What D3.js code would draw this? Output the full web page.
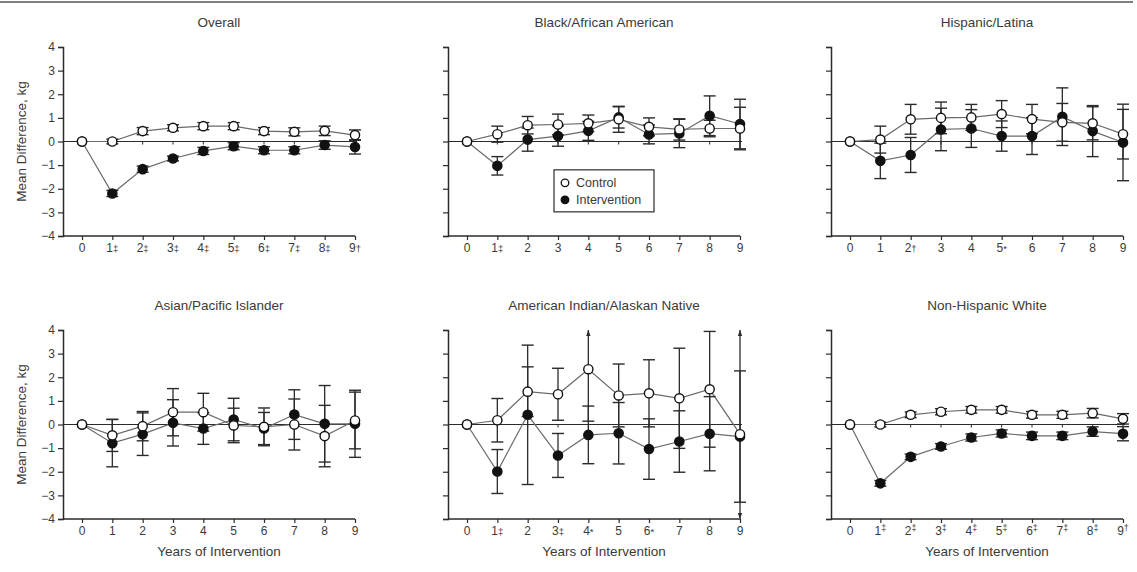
<!DOCTYPE html>
<html>
<head>
<meta charset="utf-8">
<script src="https://cdn.jsdelivr.net/npm/d3@7/dist/d3.min.js"></script>
<style>
  html, body { margin: 0; padding: 0; background: #fff; }
  svg { display: block; font-family: "Liberation Sans", Arial, Helvetica, sans-serif; }
</style>
</head>
<body>
<svg id="chart" width="1137" height="572"></svg>
<script>
// Years since baseline
const years = [0, 1, 2, 3, 4, 5, 6, 7, 8, 9];
const yTicks = [-4, -3, -2, -1, 0, 1, 2, 3, 4];

// Significance marks appended to the year labels
const overallMarks  = ["", "‡", "‡", "‡", "‡", "‡", "‡", "‡", "‡", "†"];
const blackMarks    = ["", "‡", "", "", "", "", "", "", "", ""];
const hispanicMarks = ["", "", "†", "", "", "*", "", "", "", ""];
const asianMarks    = ["", "", "", "", "", "", "", "", "", ""];
const amIndMarks    = ["", "‡", "", "‡", "*", "", "*", "", "", ""];
const whiteMarks    = ["", "‡", "‡", "‡", "‡", "‡", "‡", "‡", "‡", "†"];

// Mean weight difference from baseline (kg) and error-bar half widths
const overallControl         = [0, 0.00, 0.44, 0.58, 0.65, 0.65, 0.44, 0.41, 0.45, 0.27];
const overallControlErr      = [0, 0.10, 0.15, 0.13, 0.15, 0.15, 0.15, 0.17, 0.20, 0.22];
const overallIntervention    = [0, -2.20, -1.17, -0.72, -0.40, -0.20, -0.37, -0.37, -0.15, -0.23];
const overallInterventionErr = [0, 0.13, 0.13, 0.10, 0.15, 0.15, 0.15, 0.15, 0.18, 0.30];

const blackControl         = [0, 0.31, 0.69, 0.72, 0.77, 0.94, 0.62, 0.51, 0.55, 0.55];
const blackControlErr      = [0, 0.34, 0.37, 0.44, 0.35, 0.55, 0.38, 0.45, 0.35, 0.90];
const blackIntervention    = [0, -1.03, 0.08, 0.23, 0.45, 1.02, 0.30, 0.34, 1.09, 0.74];
const blackInterventionErr = [0, 0.39, 0.49, 0.43, 0.40, 0.45, 0.40, 0.60, 0.84, 1.05];

const hispanicControl         = [0, 0.08, 0.94, 1.00, 1.02, 1.16, 0.95, 0.81, 0.77, 0.31];
const hispanicControlErr      = [0, 0.57, 0.63, 0.67, 0.55, 0.57, 0.62, 0.80, 0.70, 1.05];
const hispanicIntervention    = [0, -0.82, -0.57, 0.51, 0.55, 0.23, 0.23, 1.05, 0.44, -0.04];
const hispanicInterventionErr = [0, 0.75, 0.74, 0.90, 0.80, 0.64, 0.78, 1.22, 1.08, 1.62];

const asianControl         = [0, -0.46, -0.07, 0.52, 0.52, -0.04, -0.10, 0.00, -0.49, 0.17];
const asianControlErr      = [0, 0.68, 0.62, 1.00, 0.80, 0.73, 0.80, 1.08, 1.30, 1.20];
const asianIntervention    = [0, -0.79, -0.41, 0.07, -0.17, 0.21, -0.17, 0.42, 0.03, 0.03];
const asianInterventionErr = [0, 1.00, 0.90, 0.98, 0.67, 0.90, 0.68, 1.05, 1.62, 1.42];

const amIndControl         = [0, 0.18, 1.39, 1.28, 2.34, 1.23, 1.32, 1.11, 1.49, -0.41];
const amIndControlErr      = [0, 0.92, 1.05, 1.10, 2.20, 1.33, 1.42, 2.12, 2.45, 4.50];
const amIndIntervention    = [0, -1.99, 0.41, -1.31, -0.44, -0.37, -1.04, -0.72, -0.39, -0.51];
const amIndInterventionErr = [0, 0.93, 2.95, 0.93, 1.22, 1.30, 1.28, 1.30, 1.57, 2.78];

const whiteControl         = [0, 0.00, 0.41, 0.54, 0.62, 0.62, 0.41, 0.41, 0.48, 0.24];
const whiteControlErr      = [0, 0.10, 0.12, 0.13, 0.14, 0.14, 0.14, 0.15, 0.20, 0.22];
const whiteIntervention    = [0, -2.49, -1.37, -0.93, -0.55, -0.38, -0.48, -0.48, -0.30, -0.39];
const whiteInterventionErr = [0, 0.12, 0.12, 0.12, 0.15, 0.15, 0.16, 0.16, 0.20, 0.30];

const panels = [
  { title: "Overall", marks: overallMarks, sup: false, control: overallControl, controlErr: overallControlErr, intervention: overallIntervention, interventionErr: overallInterventionErr },
  { title: "Black/African American", marks: blackMarks, sup: false, control: blackControl, controlErr: blackControlErr, intervention: blackIntervention, interventionErr: blackInterventionErr, legend: true },
  { title: "Hispanic/Latina", marks: hispanicMarks, sup: false, control: hispanicControl, controlErr: hispanicControlErr, intervention: hispanicIntervention, interventionErr: hispanicInterventionErr },
  { title: "Asian/Pacific Islander", marks: asianMarks, sup: false, control: asianControl, controlErr: asianControlErr, intervention: asianIntervention, interventionErr: asianInterventionErr },
  { title: "American Indian/Alaskan Native", marks: amIndMarks, sup: false, control: amIndControl, controlErr: amIndControlErr, intervention: amIndIntervention, interventionErr: amIndInterventionErr },
  { title: "Non-Hispanic White", marks: whiteMarks, sup: true, control: whiteControl, controlErr: whiteControlErr, intervention: whiteIntervention, interventionErr: whiteInterventionErr }
];

const svg = d3.select("#chart");
const INK = "#2b2b2b";
const TEXT = "#3a3a3a";

// Rule across the top of the figure
svg.append("line")
  .attr("x1", 0).attr("x2", 1133).attr("y1", 2).attr("y2", 2)
  .attr("stroke", "#555").attr("stroke-width", 1.5);

const colAxisX = [63, 448, 831];
const rowTop = [47, 330];
const plotH = 189;
const xStart = 19, xSpan = 273;

panels.forEach((p, i) => {
  const col = i % 3, row = Math.floor(i / 3);
  const ax = colAxisX[col];
  const x = d3.scaleLinear().domain([0, 9]).range([ax + xStart, ax + xStart + xSpan]);
  const y = d3.scaleLinear().domain([-4, 4]).range([rowTop[row] + plotH, rowTop[row]]);
  const g = svg.append("g");

  // Panel title
  g.append("text")
    .attr("x", ax + 156).attr("y", rowTop[row] - 20)
    .attr("text-anchor", "middle").attr("font-size", 13.5).attr("fill", TEXT)
    .text(p.title);

  // Y axis
  const yAxis = d3.axisLeft(y).tickValues(yTicks).tickSize(5).tickPadding(3)
    .tickFormat(d => col === 0 ? d3.format("")(d).replace("-", "−") : "");
  const ya = g.append("g").attr("transform", `translate(${ax},0)`).call(yAxis);
  ya.select(".domain").attr("stroke", INK).attr("stroke-width", 1.5);
  ya.selectAll(".tick line").attr("stroke", INK).attr("stroke-width", 1.2);
  ya.selectAll(".tick text").attr("fill", TEXT).attr("font-size", 12).attr("font-family", "Liberation Sans, Arial, sans-serif");

  // X axis
  const xAxis = d3.axisBottom(x).tickValues(years).tickSize(4).tickFormat("");
  const xa = g.append("g").attr("transform", `translate(0,${y(-4)})`).call(xAxis);
  xa.select(".domain").attr("d", `M${ax},0H${x(9)}`).attr("stroke", INK).attr("stroke-width", 1.5);
  xa.selectAll(".tick line").attr("stroke", INK).attr("stroke-width", 1.2);

  // Year labels with significance marks
  const lbl = g.selectAll(".yr").data(years).join("text")
    .attr("x", d => x(d)).attr("y", y(-4) + 16)
    .attr("text-anchor", "middle").attr("font-size", 12).attr("fill", TEXT);
  lbl.append("tspan").text(d => d);
  lbl.append("tspan")
    .attr("font-size", p.sup ? 9 : 9.5)
    .attr("dy", p.sup ? -4 : 0)
    .text(d => p.marks[d]);

  if (row === 1) {
    g.append("text")
      .attr("x", ax + 156).attr("y", y(-4) + 37)
      .attr("text-anchor", "middle").attr("font-size", 13.5).attr("fill", TEXT)
      .text("Years of Intervention");
  }
  if (col === 0) {
    g.append("text")
      .attr("transform", `translate(26,${y(0)}) rotate(-90)`)
      .attr("text-anchor", "middle").attr("font-size", 13.5).attr("fill", TEXT)
      .text("Mean Difference, kg");
  }

  // Zero reference line with small ticks
  g.append("line")
    .attr("x1", ax).attr("x2", x(9) + 2).attr("y1", y(0)).attr("y2", y(0))
    .attr("stroke", INK).attr("stroke-width", 1.2);
  g.selectAll(".zt").data(years.slice(1)).join("line")
    .attr("x1", d => x(d)).attr("x2", d => x(d))
    .attr("y1", y(0)).attr("y2", y(0) + 3)
    .attr("stroke", INK).attr("stroke-width", 1);

  const line = d3.line().x((d, k) => x(years[k])).y(d => y(d));
  const series = [
    { vals: p.intervention, err: p.interventionErr, fill: "#111" },
    { vals: p.control, err: p.controlErr, fill: "#fff" }
  ];

  series.forEach(s => {
    g.append("path").attr("d", line(s.vals))
      .attr("fill", "none").attr("stroke", "#6a6a6a").attr("stroke-width", 1.2);
  });

  // Error bars, clipped to the axis range with arrowheads where they run off
  const cap = 6;
  series.forEach(s => {
    years.forEach((yr, k) => {
      const e = s.err[k];
      if (!e) return;
      const hi = s.vals[k] + e, lo = s.vals[k] - e;
      const hiC = Math.min(hi, 4), loC = Math.max(lo, -4);
      const cx = x(yr);
      g.append("line").attr("x1", cx).attr("x2", cx)
        .attr("y1", y(hiC)).attr("y2", y(loC))
        .attr("stroke", INK).attr("stroke-width", 1.3);
      [[hi, hiC, -1], [lo, loC, 1]].forEach(([v, vc, dir]) => {
        if (v === vc) {
          g.append("line").attr("x1", cx - cap).attr("x2", cx + cap)
            .attr("y1", y(v)).attr("y2", y(v))
            .attr("stroke", INK).attr("stroke-width", 1.4);
        } else {
          const ty = y(vc);
          g.append("path")
            .attr("d", `M${cx},${ty}L${cx - 2.2},${ty - dir * 6}L${cx + 2.2},${ty - dir * 6}Z`)
            .attr("fill", INK);
        }
      });
    });
  });

  series.forEach(s => {
    g.selectAll(null).data(s.vals).join("circle")
      .attr("cx", (d, k) => x(years[k])).attr("cy", d => y(d)).attr("r", 4.6)
      .attr("fill", s.fill).attr("stroke", "#111").attr("stroke-width", 1.4);
  });

  if (p.legend) {
    const lg = g.append("g").attr("transform", `translate(${ax + 106},${y(-1.2)})`);
    lg.append("rect").attr("width", 100).attr("height", 42)
      .attr("fill", "#fff").attr("stroke", INK).attr("stroke-width", 1.2);
    const items = [{ label: "Control", fill: "#fff" }, { label: "Intervention", fill: "#111" }];
    items.forEach((it, k) => {
      lg.append("circle").attr("cx", 11).attr("cy", 13 + k * 17).attr("r", 3.8)
        .attr("fill", it.fill).attr("stroke", "#111").attr("stroke-width", 1.3);
      lg.append("text").attr("x", 22).attr("y", 17.5 + k * 17)
        .attr("font-size", 12.5).attr("fill", TEXT).text(it.label);
    });
  }
});
</script>
</body>
</html>
